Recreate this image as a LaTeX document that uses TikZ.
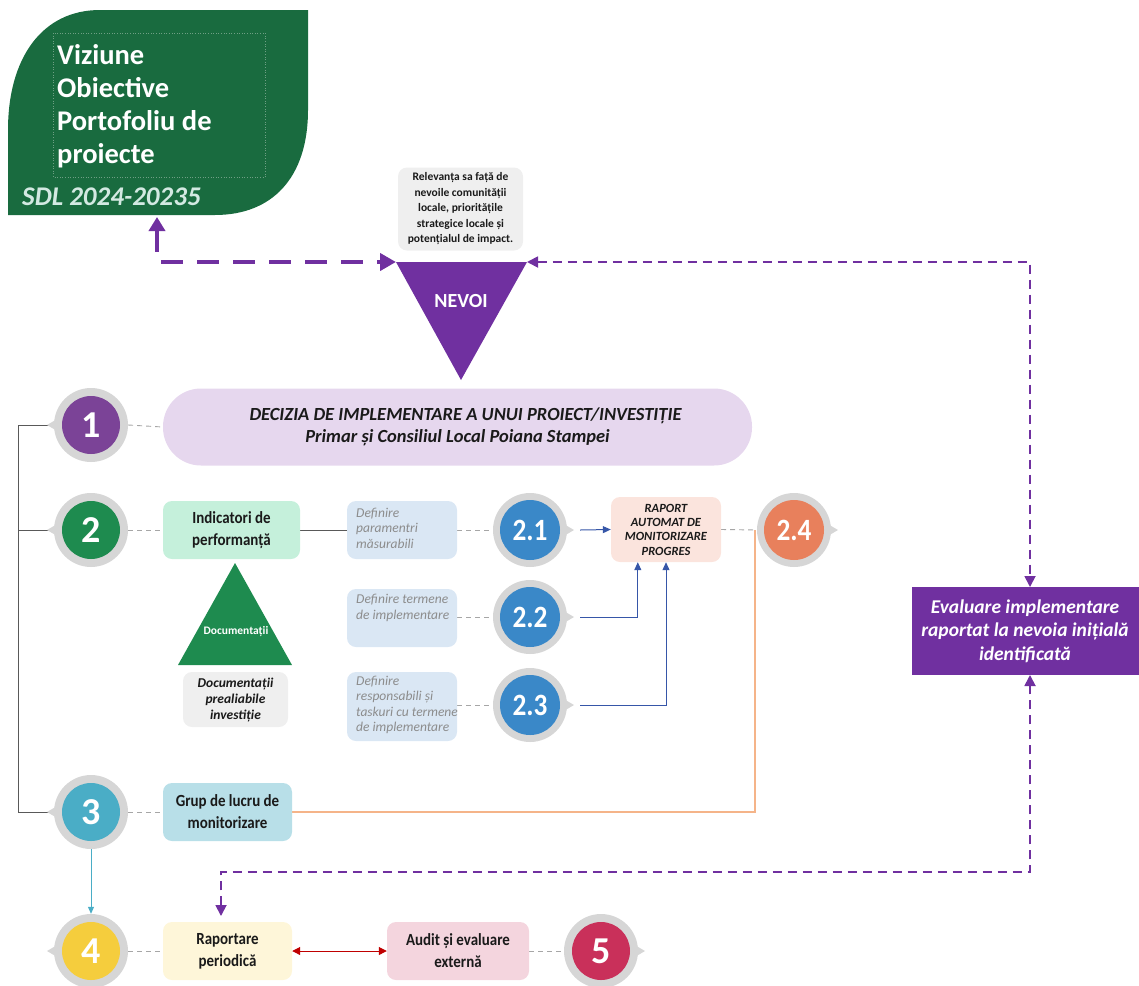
\documentclass[tikz,border=0pt]{standalone}
\usepackage{fontspec}
\setmainfont{Carlito}
\newfontfamily\condfont[FakeStretch=0.88]{Carlito}
\usetikzlibrary{calc,arrows.meta,backgrounds}
\definecolor{leaf}{HTML}{196B3F}
\definecolor{leaftxt}{HTML}{D3E9E2}
\definecolor{leafdot}{HTML}{6E9F84}
\definecolor{purp}{HTML}{7030A0}
\definecolor{cone}{HTML}{7B4397}
\definecolor{ctwo}{HTML}{1E8B4F}
\definecolor{cthree}{HTML}{4AADC6}
\definecolor{cfour}{HTML}{F5CD3D}
\definecolor{cfive}{HTML}{C9305A}
\definecolor{cblue}{HTML}{3A88C8}
\definecolor{corange}{HTML}{E8805C}
\definecolor{ringgray}{HTML}{D6D6D6}
\definecolor{dashgray}{HTML}{A6A6A6}
\definecolor{linegray}{HTML}{595959}
\definecolor{barcol}{HTML}{E6D7EE}
\definecolor{indcol}{HTML}{C5F0DB}
\definecolor{defcol}{HTML}{DAE7F4}
\definecolor{deftxt}{HTML}{8C8C8C}
\definecolor{rapcol}{HTML}{FBE4DD}
\definecolor{grupcol}{HTML}{B8DFE8}
\definecolor{raportcol}{HTML}{FEF6D9}
\definecolor{auditcol}{HTML}{F4D5DE}
\definecolor{boxgray}{HTML}{EFEFEF}
\definecolor{bluearr}{HTML}{3656A8}
\definecolor{orangeln}{HTML}{F5B489}
\definecolor{redarr}{HTML}{C00000}
\definecolor{txt}{HTML}{1A1A1A}
\tikzset{
  ring/.style={circle, fill=ringgray, minimum size=74pt, inner sep=0pt},
  disc/.style={circle, minimum size=58pt, inner sep=0pt, text=white, font=\fontsize{38}{38}\selectfont\bfseries},
  subdisc/.style={disc, minimum size=60pt, font=\fontsize{31}{31}\selectfont\condfont\bfseries},
  card/.style={rounded corners=9pt, inner sep=0pt, align=center, text=txt},
  stepcard/.style={card, minimum height=58pt, font=\fontsize{17}{22}\selectfont\condfont\bfseries},
  defcard/.style={card, fill=defcol, minimum width=110pt},
  deftext/.style={anchor=west, inner sep=0pt, align=left, text=deftxt, font=\fontsize{13.5}{15.5}\selectfont\itshape},
  gdash/.style={draw=dashgray, line width=0.9pt, dash pattern=on 5pt off 4pt},
  pthick/.style={draw=purp, line width=4pt, dash pattern=on 22pt off 14pt},
  pthin/.style={draw=purp, line width=1.8pt, dash pattern=on 9pt off 6pt},
  leaftext/.style={anchor=base west, text=white, font=\fontsize{28.5}{33}\selectfont\bfseries, inner sep=0pt},
}
\newcommand{\badge}[7]{%
  \fill[ringgray] ({#2+(#6)*27},{#3-10}) -- ({#2+(#6)*44},{#3}) -- ({#2+(#6)*27},{#3+10}) -- cycle;
  \node[ring] (#1) at (#2,#3) {};
  \node[#7, fill=#4] (#1n) at (#2,#3) {#5};
}
\begin{document}
\begin{tikzpicture}[x=1pt,y=-1pt]
\useasboundingbox (0,0) rectangle (1139,985);
% leaf shape
\fill[leaf] (8,215) -- (8,130) .. controls (8,58) and (42,10) .. (100,10) -- (308,10) -- (308,110) .. controls (308,178) and (272,215) .. (215,215) -- cycle;
\draw[leafdot, dotted, line width=0.6pt] (53,33) rectangle (265,177);
\node[leaftext] (v1) at (57,64) {Viziune};
\node[leaftext] (v2) at (57,97) {Obiective};
\node[leaftext] (v3) at (57,130) {Portofoliu de};
\node[leaftext] (v4) at (57,163) {proiecte};
\node[anchor=base west, inner sep=0pt, text=leaftxt, font=\fontsize{27}{30}\selectfont\bfseries\itshape] (sdl) at (22,205) {SDL 2024-20235};
\coordinate (leafb) at (157,217);
% relevance
\node[card, fill=boxgray, minimum width=125pt, minimum height=83pt, font=\fontsize{11.5}{15.5}\selectfont\bfseries] (rel) at (460.5,209) {Relevanța sa față de\\nevoile comunității\\locale, prioritățile\\strategice locale și\\potențialul de impact.};
% NEVOI
\fill[purp] (396,262) -- (527,262) -- (461,380) -- cycle;
\coordinate (nevL) at (396,262);
\coordinate (nevR) at (527,262);
\node[text=white, font=\fontsize{20}{24}\selectfont\bfseries] (nevoi) at (461,301) {NEVOI};
% evaluare
\node[fill=purp, minimum width=227pt, minimum height=88pt, inner sep=0pt, align=center, text=white, font=\fontsize{19.5}{23.5}\selectfont\bfseries\itshape] (eval) at (1025,631) {Evaluare implementare\\raportat la nevoia inițială\\identificată};
\coordinate (rtop) at (1030,262);
\coordinate (evtop) at (1030,587);
\coordinate (evbot) at (1030,675);
\coordinate (rbot) at (1030,872);
\coordinate (lbot) at (221,872);
\coordinate (rapin) at (221,916);
% badges
\badge{c1}{91}{425}{cone}{1}{-1}{disc}
\badge{c2}{91}{530}{ctwo}{2}{-1}{disc}
\badge{c3}{91}{812}{cthree}{3}{-1}{disc}
\badge{c4}{91}{951}{cfour}{4}{-1}{disc}
\badge{c5}{601}{951}{cfive}{5}{1}{disc}
\badge{c21}{530}{530}{cblue}{2.1}{1}{subdisc}
\badge{c22}{530}{617}{cblue}{2.2}{1}{subdisc}
\badge{c23}{530}{705}{cblue}{2.3}{1}{subdisc}
\badge{c24}{794}{530}{corange}{2.4}{1}{subdisc}
% bar
\node[fill=barcol, rounded corners=38pt, minimum width=589pt, minimum height=77pt, inner sep=0pt, align=center, text=txt, font=\fontsize{18.5}{22}\selectfont\bfseries\itshape] (bar) at (457.5,427) {\hspace*{16pt}DECIZIA DE IMPLEMENTARE A UNUI PROIECT/INVESTIȚIE\\Primar și Consiliul Local Poiana Stampei};
% boxes
\node[stepcard, fill=indcol, minimum width=137pt] (ind) at (231.5,530) {Indicatori de\\performanță};
\fill[ctwo] (235,563) -- (292,665) -- (178,665) -- cycle;
\node[text=white, font=\fontsize{11.5}{14}\selectfont\bfseries] (doctri) at (236,632) {Documentații};
\node[card, fill=boxgray, minimum width=105pt, minimum height=55pt, font=\fontsize{13.5}{16}\selectfont\bfseries\itshape] (doc) at (235.5,699.5) {Documentații\\prealiabile\\investiție};
\node[defcard, minimum height=58pt] (def1) at (402,530) {};
\node[deftext] (def1t) at (356,528) {Definire\\paramentri\\măsurabili};
\node[defcard, minimum height=58pt] (def2) at (402,618) {};
\node[deftext] (def2t) at (356,608) {Definire termene\\de implementare};
\node[defcard, minimum height=69pt] (def3) at (402,706.5) {};
\node[deftext] (def3t) at (356,705) {Definire\\responsabili și\\taskuri cu termene\\de implementare};
\node[card, fill=rapcol, minimum width=110pt, minimum height=65pt, font=\fontsize{12.5}{14.3}\selectfont\bfseries\itshape] (raport) at (666,529.5) {RAPORT\\AUTOMAT DE\\MONITORIZARE\\PROGRES};
\node[stepcard, fill=grupcol, minimum width=129pt] (grup) at (227.5,812) {Grup de lucru de\\monitorizare};
\node[stepcard, fill=raportcol, minimum width=129pt] (rap) at (227.5,951) {Raportare\\periodică};
\node[stepcard, fill=auditcol, minimum width=142pt] (audit) at (458,951) {Audit și evaluare\\externă};
\coordinate (otop) at (755,530);
% connectors
\begin{pgfonlayer}{background}
\draw[linegray, line width=0.9pt] (c1.west) -- (18,425) -- (18,812) -- (c3.west);
\draw[linegray, line width=0.9pt] (18,530) -- (c2.west);
\draw[linegray, line width=0.9pt] (ind.east) -- (def1.west);
\draw[gdash] (c1.east) -- (bar.west);
\draw[gdash] (c2.east) -- (ind.west);
\draw[gdash] (def1.east) -- (c21.west);
\draw[gdash] (def2.east |- c22) -- (c22.west);
\draw[gdash] (def3.east |- c23) -- (c23.west);
\draw[gdash] (raport.east) -- (c24.west);
\draw[gdash] (c3.east) -- (grup.west);
\draw[gdash] (c4.east) -- (rap.west);
\draw[gdash] (audit.east) -- (c5.west);
\draw[orangeln, line width=1.2pt] (grup.east) -| (otop);
\end{pgfonlayer}
\draw[bluearr, line width=1pt, -{Triangle[length=8pt,width=7pt]}] ($(c21.east)+(13,0)$) -- (raport.west);
\draw[bluearr, line width=1pt, -{Triangle[length=8pt,width=7pt]}] ($(c22.east)+(13,0)$) -| ($(raport.south west)+(27,0)$);
\draw[bluearr, line width=1pt, -{Triangle[length=8pt,width=7pt]}] ($(c23.east)+(13,0)$) -| (raport.south);
\draw[cthree, line width=1pt, -{Triangle[length=7pt,width=6pt]}] (c3.south) -- (c4.north);
\draw[redarr, line width=1pt, {Triangle[length=8pt,width=8pt]}-{Triangle[length=8pt,width=8pt]}] (rap.east) -- (audit.west);
\draw[pthick, {Triangle[length=14pt,width=16pt]}-{Triangle[length=16pt,width=17pt]}] (leafb) -- (157,262) -- (nevL);
\draw[pthin, {Triangle[length=11pt,width=11pt]}-{Triangle[length=11pt,width=11pt]}] (nevR) -- (rtop) -- (evtop);
\draw[pthin, {Triangle[length=11pt,width=11pt]}-{Triangle[length=11pt,width=11pt]}] (rapin) -- (lbot) -- (rbot) -- (evbot);
\end{tikzpicture}
\end{document}
